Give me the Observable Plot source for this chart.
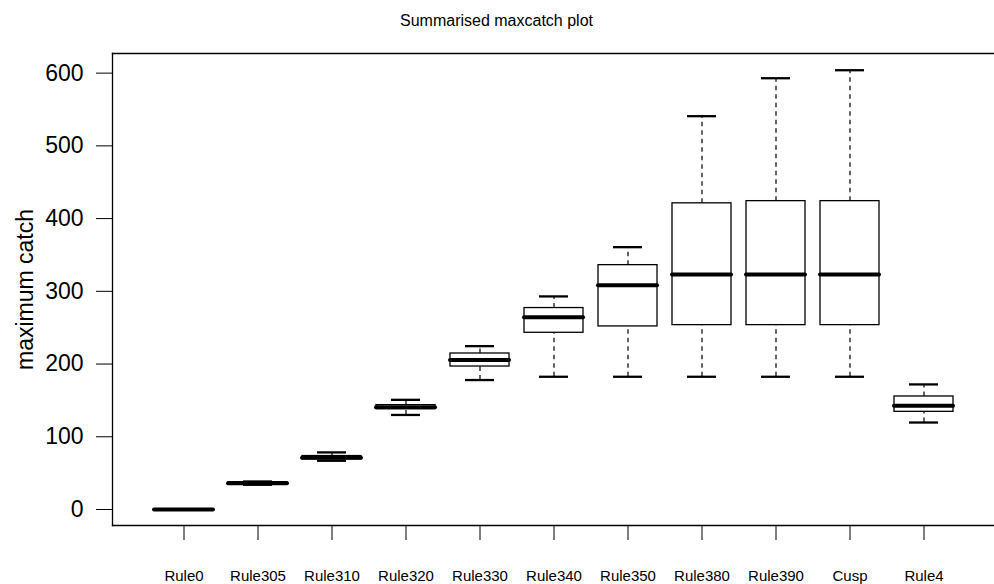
<!DOCTYPE html>
<html>
<head>
<meta charset="utf-8">
<script src="https://cdn.jsdelivr.net/npm/d3@7"></script>
<script src="https://cdn.jsdelivr.net/npm/@observablehq/plot@0.6"></script>
<style>
  html, body { margin: 0; padding: 0; background: #fff; overflow: hidden; }
  svg { display: block; }
</style>
</head>
<body>
<div id="chart"></div>
<script>
// Harvest-control rules compared on the maximum catch they allow
const rules = ["Rule0", "Rule305", "Rule310", "Rule320", "Rule330", "Rule340",
               "Rule350", "Rule380", "Rule390", "Cusp", "Rule4"];
// Five-number summaries per rule (lower whisker, Q1, median, Q3, upper whisker)
const lower  = [0, 34,   67,  130, 178, 182.5, 182.5, 182.5, 182.5, 182.5, 119.6];
const q1     = [0, 35,   69,  138, 196.6, 243, 251.7, 253.5, 253.5, 253.5, 134.3];
const median = [0, 36.2, 71,  140.7, 205.4, 264.5, 308.5, 323, 323, 323, 142.6];
const q3     = [0, 37.5, 73.5, 143.5, 214.5, 277, 336, 421, 424, 424, 155.4];
const upper  = [0, 38.5, 78.5, 150.8, 224.6, 293, 360.7, 540.8, 593, 604, 172];
const yTicks = [0, 100, 200, 300, 400, 500, 600];

const rows = rules.map((rule, i) => ({
  rule, lo: lower[i], q1: q1[i], med: median[i], q3: q3[i], hi: upper[i]
}));

const chart = Plot.plot({
  width: 994,
  height: 584,
  marginLeft: 112,
  marginRight: 0,
  marginTop: 53,
  marginBottom: 59,
  style: {fontFamily: "'Liberation Sans', Arial, sans-serif", fontSize: "15px", background: "#fff", color: "#000"},
  x: {type: "band", domain: rules, range: [144.8, 963.2], paddingInner: 0.2, paddingOuter: 0.1},
  y: {domain: [-22, 627]},
  marks: [
    // open-right plot border
    Plot.frame({anchor: "top", stroke: "#000", strokeWidth: 1.3}),
    Plot.frame({anchor: "bottom", stroke: "#000", strokeWidth: 1.3}),
    Plot.frame({anchor: "left", stroke: "#000", strokeWidth: 1.3}),
    // dashed whiskers
    Plot.ruleX(rows, {x: "rule", y1: "q3", y2: "hi", stroke: "#000", strokeWidth: 1.2, strokeDasharray: "4.5,4"}),
    Plot.ruleX(rows, {x: "rule", y1: "lo", y2: "q1", stroke: "#000", strokeWidth: 1.2, strokeDasharray: "4.5,4"}),
    // interquartile boxes
    Plot.barY(rows, {x: "rule", y1: "q1", y2: "q3", fill: "#fff", stroke: "#000", strokeWidth: 1.3}),
    // whisker caps
    Plot.tickY(rows, {x: "rule", y: "hi", stroke: "#000", strokeWidth: 2.3, inset: 15}),
    Plot.tickY(rows, {x: "rule", y: "lo", stroke: "#000", strokeWidth: 2.3, inset: 15}),
    // medians
    Plot.tickY(rows, {x: "rule", y: "med", stroke: "#000", strokeWidth: 4, strokeLinecap: "round"}),
    Plot.axisY({ticks: yTicks, tickSize: 16, tickPadding: 13, fontSize: 23, label: null, stroke: "#000"}),
    Plot.axisX({tickSize: 15, tickPadding: 30, fontSize: 15, label: null, stroke: "#000"}),
    Plot.text(["maximum catch"], {frameAnchor: "left", dx: -87, rotate: -90, fontSize: 23, textAnchor: "middle", lineAnchor: "middle"}),
    Plot.text(["Summarised maxcatch plot"], {frameAnchor: "top", dx: -57, dy: -33, fontSize: 16, lineAnchor: "middle"})
  ]
});
document.getElementById("chart").append(chart);
</script>
</body>
</html>
